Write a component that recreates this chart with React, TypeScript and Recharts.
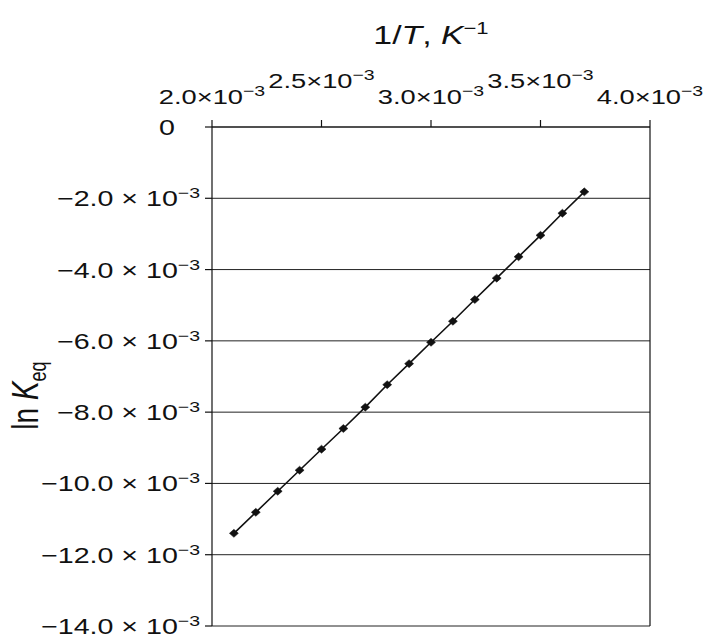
import { LineChart, Line, CartesianGrid, XAxis, YAxis, Label, ReferenceLine } from "recharts";

// 1/T values, K^-1
const invT = [
  0.0021, 0.0022, 0.0023, 0.0024, 0.0025, 0.0026, 0.0027, 0.0028, 0.0029,
  0.003, 0.0031, 0.0032, 0.0033, 0.0034, 0.0035, 0.0036, 0.0037,
];

// ln Keq
const lnKeq = [
  -0.0114, -0.01081, -0.01022, -0.00963, -0.00904, -0.00846, -0.00786,
  -0.00723, -0.00664, -0.00604, -0.00545, -0.00484, -0.00424, -0.00364,
  -0.00304, -0.00242, -0.00182,
];

const xTicks = [0.002, 0.0025, 0.003, 0.0035, 0.004];
const xTickLabels = ["2.0", "2.5", "3.0", "3.5", "4.0"];

const yTicks = [0, -0.002, -0.004, -0.006, -0.008, -0.01, -0.012, -0.014];
const yTickLabels = ["0", "−2.0", "−4.0", "−6.0", "−8.0", "−10.0", "−12.0", "−14.0"];

const data = invT.map((x, i) => ({ x, y: lnKeq[i] }));

const FONT = "'Liberation Sans', Arial, Helvetica, sans-serif";
const STRETCH = 1.3;
const INK = "#111";

const XTick = (props: any) => {
  const { x, payload, index } = props;
  const i = xTicks.indexOf(payload.value);
  const baseline = (i >= 0 ? i : index) % 2 === 1 ? 88 : 104;
  return (
    <g transform={`translate(${x},${baseline}) scale(${STRETCH},1)`}>
      <text x={0} y={0} textAnchor="middle" fontSize={21} fontFamily={FONT} fill={INK}>
        {xTickLabels[i]}×10
        <tspan dy={-8} fontSize={15}>−3</tspan>
      </text>
    </g>
  );
};

const YTick = (props: any) => {
  const { x, y, payload } = props;
  const i = yTicks.indexOf(payload.value);
  if (payload.value === 0) {
    return (
      <g transform={`translate(${x - 28},${y + 8}) scale(${STRETCH},1)`}>
        <text x={0} y={0} textAnchor="end" fontSize={22} fontFamily={FONT} fill={INK}>
          0
        </text>
      </g>
    );
  }
  return (
    <g transform={`translate(${x - 3},${y + 8}) scale(${STRETCH},1)`}>
      <text x={0} y={0} textAnchor="end" fontSize={22} fontFamily={FONT} fill={INK}>
        {yTickLabels[i]} × 10
        <tspan dy={-8} fontSize={15}>−3</tspan>
      </text>
    </g>
  );
};

const Diamond = (props: any) => {
  const { cx, cy } = props;
  if (cx == null || cy == null) return null;
  return (
    <path
      d={`M${cx},${cy - 4} L${cx + 4.5},${cy} L${cx},${cy + 4} L${cx - 4.5},${cy} Z`}
      fill={INK}
      stroke={INK}
      strokeWidth={0.5}
    />
  );
};

const XTitle = (props: any) => {
  const vb = props.viewBox || { x: 212, width: 438 };
  const cx = vb.x + vb.width / 2;
  return (
    <g transform={`translate(${cx},44) scale(${STRETCH},1)`}>
      <text x={0} y={0} textAnchor="middle" fontSize={26} fontFamily={FONT} fill={INK}>
        1/<tspan fontStyle="italic">T</tspan>, <tspan fontStyle="italic">K</tspan>
        <tspan dy={-10} fontSize={17}>−1</tspan>
      </text>
    </g>
  );
};

const YTitle = (props: any) => {
  const vb = props.viewBox || { y: 127, height: 499 };
  const cy = vb.y + vb.height / 2 + 19;
  return (
    <g transform={`translate(38,${cy}) scale(${STRETCH},1) rotate(-90)`}>
      <text x={0} y={0} textAnchor="middle" fontSize={28} fontFamily={FONT} fill={INK}>
        ln <tspan fontStyle="italic">K</tspan>
        <tspan dy={6} fontSize={18}>eq</tspan>
      </text>
    </g>
  );
};

const App = () => {
  return (
    <div style={{ position: "absolute", left: 0, top: 0, width: 703, height: 639, background: "#fff" }}>
      <LineChart
        width={703}
        height={639}
        data={data}
        margin={{ top: 0, right: 53, bottom: 13, left: 0 }}
      >
        <CartesianGrid vertical={false} stroke="#222" strokeWidth={1} />

        <XAxis
          dataKey="x"
          type="number"
          orientation="top"
          height={127}
          domain={[0.002, 0.004]}
          ticks={xTicks}
          tick={<XTick />}
          tickSize={7}
          axisLine={{ stroke: INK, strokeWidth: 1.2 }}
          tickLine={{ stroke: INK, strokeWidth: 1.2 }}
          interval={0}
        >
          <Label content={<XTitle />} />
        </XAxis>

        <YAxis
          type="number"
          width={212}
          domain={[-0.014, 0]}
          ticks={yTicks}
          tick={<YTick />}
          tickSize={7}
          axisLine={{ stroke: INK, strokeWidth: 1.2 }}
          tickLine={{ stroke: INK, strokeWidth: 1.2 }}
          interval={0}
        >
          <Label content={<YTitle />} />
        </YAxis>

        <ReferenceLine x={0.004} stroke={INK} strokeWidth={1.2} />

        <Line
          type="linear"
          dataKey="y"
          stroke={INK}
          strokeWidth={1.6}
          dot={<Diamond />}
          activeDot={false}
          isAnimationActive={false}
        />
      </LineChart>
    </div>
  );
};

export default App;
